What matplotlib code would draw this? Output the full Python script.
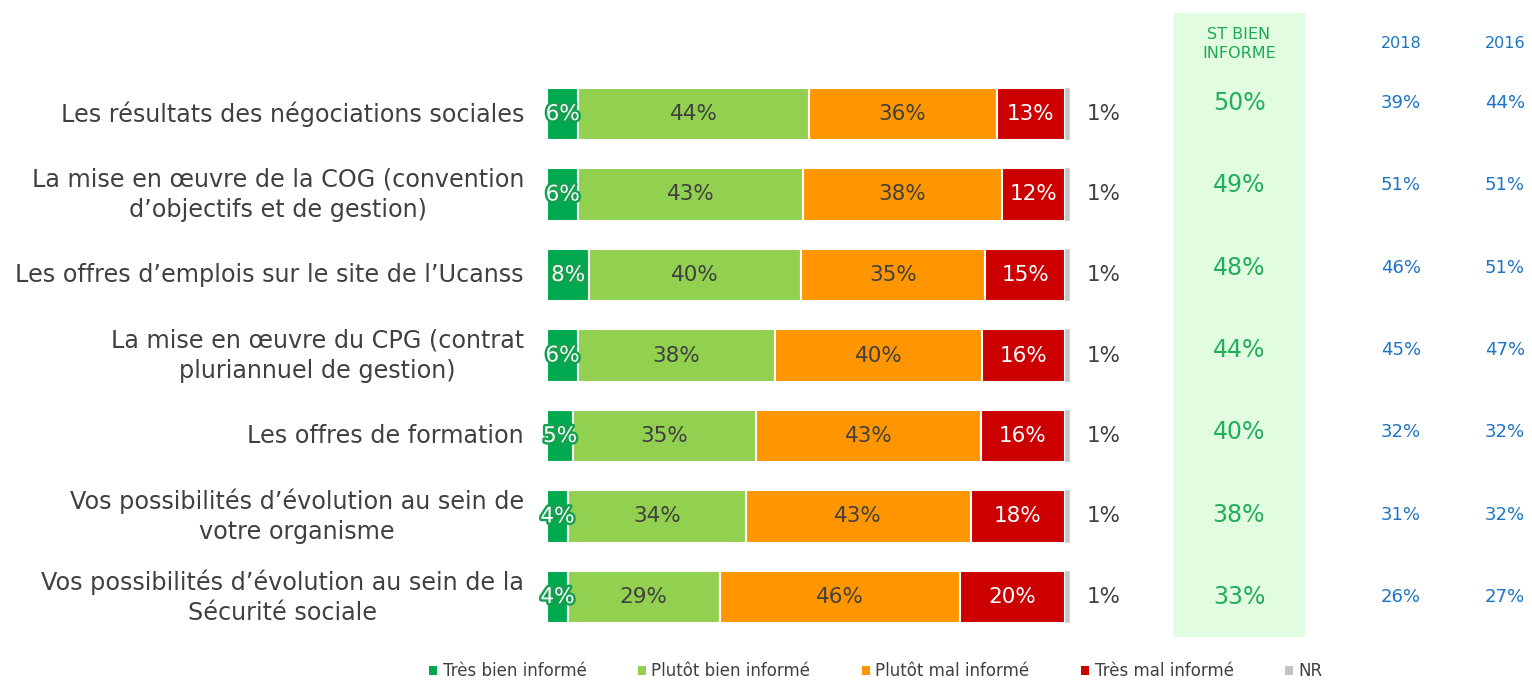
import matplotlib.pyplot as plt
import matplotlib.patheffects as pe
from matplotlib.patches import Patch, Rectangle

# Survey items (top to bottom).
categories = [
    "Les résultats des négociations sociales",
    "La mise en œuvre de la COG (convention\nd’objectifs et de gestion)",
    "Les offres d’emplois sur le site de l’Ucanss",
    "La mise en œuvre du CPG (contrat\npluriannuel de gestion)",
    "Les offres de formation",
    "Vos possibilités d’évolution au sein de\nvotre organisme",
    "Vos possibilités d’évolution au sein de la\nSécurité sociale",
]
# Answer shares (rounded labels), one list per answer.
tres_bien = [6, 6, 8, 6, 5, 4, 4]
plutot_bien = [44, 43, 40, 38, 35, 34, 29]
plutot_mal = [36, 38, 35, 40, 43, 43, 46]
tres_mal = [13, 12, 15, 16, 16, 18, 20]
nr = [1, 1, 1, 1, 1, 1, 1]
# Side table columns.
st_bien = [50, 49, 48, 44, 40, 38, 33]
val_2018 = [39, 51, 46, 45, 32, 31, 26]
val_2016 = [44, 51, 51, 47, 32, 32, 27]

series_names = ["Très bien informé", "Plutôt bien informé", "Plutôt mal informé",
                "Très mal informé", "NR"]
series_vals = [tres_bien, plutot_bien, plutot_mal, tres_mal, nr]
colors = ["#00A94F", "#92D050", "#FF9600", "#CC0000", "#C4C4C4"]

W, H = 1532, 680
fig = plt.figure(figsize=(W / 100, H / 100), dpi=100)
plt.rcParams["font.family"] = ["DejaVu Sans"]
txt = "#404040"

# Green panel behind the ST column (drawn under the axes).
fig.patches.append(Rectangle((1174 / W, 1 - 636 / H), 130 / W, 623 / H,
                             transform=fig.transFigure, color="#E2FCE2", zorder=-5))

# Main bar axes: x 0..100 maps to pixel 547..1070.
ax = fig.add_axes([547 / W, 1 - 637.25 / H, 523 / W, 563.5 / H])
ax.set_xlim(0, 100)
ax.set_ylim(6.5, -0.5)
ax.axis("off")

n = len(categories)
ys = list(range(n))
# Each bar is scaled to a full 100 (labels are rounded values).
totals = [sum(s[i] for s in series_vals) for i in range(n)]
left = [0.0] * n
for k, (vals, col) in enumerate(zip(series_vals, colors)):
    widths = [v * 100 / t for v, t in zip(vals, totals)]
    ax.barh(ys, widths, left=left, height=0.65, color=col, edgecolor="white",
            linewidth=1.5 if k < 4 else 0.3)
    for i, v in enumerate(vals):
        cx = left[i] + widths[i] / 2
        if k == 0:
            ax.text(cx, i, f"{v}%", ha="center", va="center", fontsize=15.5, color="white",
                    path_effects=[pe.withStroke(linewidth=3.5, foreground="#15A050")])
        elif k == 3:
            ax.text(cx, i, f"{v}%", ha="center", va="center", fontsize=15.5, color="white")
        elif k == 4:
            ax.text(106.5, i, f"{v}%", ha="center", va="center", fontsize=15.5, color=txt)
        else:
            ax.text(cx, i, f"{v}%", ha="center", va="center", fontsize=15.5, color=txt)
    left = [a + b for a, b in zip(left, widths)]

# Category labels, right aligned before the bars.
for i, c in enumerate(categories):
    ax.text(-4.4, i, c, ha="right", va="center", fontsize=17.2, color=txt,
            multialignment="center", linespacing=1.32)

# Headers.
fig.text(1239 / W, 1 - 44 / H, "ST BIEN\nINFORME", ha="center", va="center",
         fontsize=11.5, color="#1DAA50", linespacing=1.4)
fig.text(1401 / W, 1 - 44 / H, "2018", ha="center", va="center", fontsize=11.5, color="#1C75C4")
fig.text(1505 / W, 1 - 44 / H, "2016", ha="center", va="center", fontsize=11.5, color="#1C75C4")

# Side table axes: rows at pixel 103 + 82.33*i.
tab = fig.add_axes([0, 1 - 638.2 / H, 1, 576.3 / H])
tab.set_xlim(0, W)
tab.set_ylim(6.5, -0.5)
tab.axis("off")
tab.patch.set_alpha(0)
for i in range(n):
    tab.text(1239, i, f"{st_bien[i]}%", ha="center", va="center", fontsize=17, color="#22AE5A")
    tab.text(1401, i, f"{val_2018[i]}%", ha="center", va="center", fontsize=13, color="#1C75C4")
    tab.text(1505, i, f"{val_2016[i]}%", ha="center", va="center", fontsize=13, color="#1C75C4")

# Legend at the bottom.
handles = [Patch(facecolor=c, edgecolor="none") for c in colors]
fig.legend(handles, series_names, loc="center", bbox_to_anchor=(876 / W, 1 - 671 / H),
           ncol=5, frameon=False, fontsize=12, handlelength=0.45, handleheight=0.45,
           handletextpad=0.35, columnspacing=3.1, labelcolor=txt)

fig.savefig("out.png", dpi=100)
